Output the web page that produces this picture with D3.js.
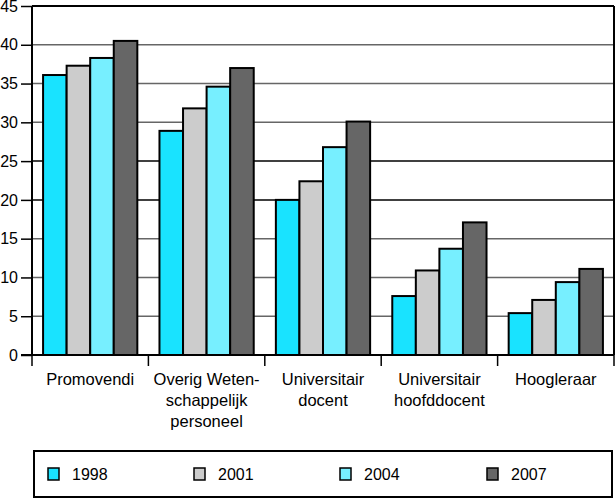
<!DOCTYPE html>
<html><head><meta charset="utf-8">
<script src="https://cdn.jsdelivr.net/npm/d3@7"></script>
<style>body{margin:0;background:#fff}svg{display:block}text{font-family:"Liberation Sans",Arial,sans-serif}</style>
</head><body><svg id="c" width="616" height="499"></svg>
<script>
const categories = [["Promovendi"],["Overig Weten-","schappelijk","personeel"],["Universitair","docent"],["Universitair","hoofddocent"],["Hoogleraar"]];
const series = ["1998","2001","2004","2007"];
const v1998 = [36.1, 28.9, 20.0, 7.6, 5.4];
const v2001 = [37.3, 31.8, 22.4, 10.9, 7.1];
const v2004 = [38.3, 34.6, 26.8, 13.7, 9.4];
const v2007 = [40.5, 37.0, 30.1, 17.1, 11.1];
const yTicks = [0,5,10,15,20,25,30,35,40,45];
const colors = ["#19e3ff","#cccccc","#77efff","#666666"];
const values = [v1998, v2001, v2004, v2007];

const svg = d3.select("#c");
const L = 32, R = 614, T = 6, B = 355;
const x0 = d3.scaleBand().domain(d3.range(categories.length)).range([L, R]).paddingInner(0).paddingOuter(0);
const x1 = d3.scaleBand().domain(d3.range(series.length)).range([0, x0.bandwidth()]).paddingInner(0).paddingOuter(0.47);
const y = d3.scaleLinear().domain([0,45]).range([B, T]);

// gridlines
const darkLines = [45,25,20];
svg.append("g").selectAll("line").data(yTicks.filter(d=>d>0)).join("line")
  .attr("x1", L).attr("x2", R).attr("y1", d=>y(d)).attr("y2", d=>y(d))
  .attr("stroke", d=> darkLines.includes(d) ? "#000" : "#666")
  .attr("stroke-width", d=> d===45 ? 2 : 1.5);

// y axis
const ya = svg.append("g").attr("transform",`translate(${L},0)`)
  .call(d3.axisLeft(y).tickValues(yTicks).tickSize(11).tickPadding(3));
ya.select(".domain").remove();
ya.selectAll(".tick line").attr("stroke","#000").attr("stroke-width",1.5);
ya.selectAll(".tick text").attr("font-size",16).attr("fill","#000");

// bars
const g = svg.append("g");
categories.forEach((c,i)=>{
  series.forEach((s,j)=>{
    g.append("rect")
      .attr("x", x0(i)+x1(j)).attr("width", x1.bandwidth())
      .attr("y", y(values[j][i])).attr("height", y(0)-y(values[j][i]))
      .attr("fill", colors[j]).attr("stroke","#000").attr("stroke-width",2);
  });
});

// frame lines
svg.append("line").attr("x1",L).attr("x2",L).attr("y1",T).attr("y2",B).attr("stroke","#000").attr("stroke-width",2);
svg.append("line").attr("x1",R).attr("x2",R).attr("y1",T).attr("y2",B).attr("stroke","#000").attr("stroke-width",2);

// x axis
svg.append("line").attr("x1",L-11).attr("x2",R).attr("y1",B).attr("y2",B).attr("stroke","#000").attr("stroke-width",2);
const bounds = d3.range(categories.length+1).map(i=> i<categories.length ? x0(i) : R);
svg.append("g").selectAll("line").data(bounds).join("line")
  .attr("x1",d=>d).attr("x2",d=>d).attr("y1",B).attr("y2",B+11)
  .attr("stroke","#000").attr("stroke-width",1.5);
categories.forEach((lines,i)=>{
  const t = svg.append("text").attr("text-anchor","middle").attr("font-size",16.5).attr("fill","#000");
  lines.forEach((ln,k)=>{
    t.append("tspan").attr("x", x0(i)+x0.bandwidth()/2).attr("y", 385 + k*21).text(ln);
  });
});

// legend
svg.append("rect").attr("x",34).attr("y",451).attr("width",578).attr("height",46)
  .attr("fill","#fff").attr("stroke","#000").attr("stroke-width",2);
const lx = [48, 194, 340, 487];
series.forEach((s,j)=>{
  svg.append("rect").attr("x",lx[j]).attr("y",468).attr("width",11).attr("height",12)
    .attr("fill",colors[j]).attr("stroke","#000").attr("stroke-width",1.5);
  svg.append("text").attr("x",lx[j]+24).attr("y",480).attr("font-size",16).attr("fill","#000").text(s);
});
</script></body></html>
